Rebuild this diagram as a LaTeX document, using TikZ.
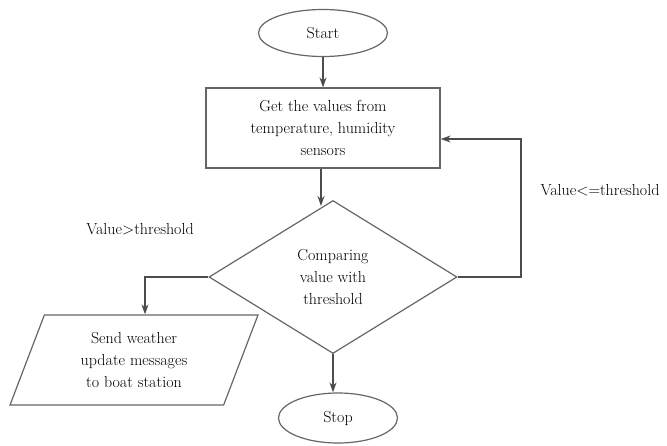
\documentclass[tikz,border=0pt]{standalone}
\usepackage{fontspec}
\usetikzlibrary{
  arrows.meta,
  shapes.geometric,
  chains,
  positioning,
  scopes,
  calc
}

\begin{document}
\begin{tikzpicture}[
      x=1pt,y=-1pt,
      every node/.style={
         font=\rmfamily\fontsize{16}{22}\selectfont,
         text=black
      },
      terminal/.style={
         ellipse,
         draw=black!60,
         inner sep=0pt
      },
      process/.style={
         rectangle,
         draw=black!60,
         minimum width=234pt,
         minimum height=80pt,
         align=center
      },
      decision/.style={
         diamond,
         draw=black!60,
         aspect=1.6,
         inner sep=0pt,
         minimum width=248pt,
         minimum height=153pt,
         align=center
      },
      io/.style={
         trapezium,
         trapezium left angle=61,
         trapezium right angle=119,
         trapezium stretches body,
         draw=black!60,
         minimum width=248pt,
         minimum height=90pt,
         align=center
      },
      point/.style={coordinate},>={Stealth[length=10pt,width=7pt]},line width=1.2pt,
      tip/.style={->,draw=black!70,shorten >=0.007pt},
      hv path/.style={to path={-| (\tikztotarget)}},
      vh path/.style={to path={|- (\tikztotarget)}}
    ]
    \useasboundingbox (0,0) rectangle (667,445);
    \node (start) [terminal, minimum width=129pt, minimum height=47pt] at (323,33) {Start};
    \node (get) [process] at (323,128) {Get the values from\\temperature, humidity\\sensors};
    \node (cmp) [decision] at (333,277) {Comparing\\value with\\threshold};
    \node (send) [io] at (134,360) {Send weather\\update messages\\to boat station};
    \node (stop) [terminal, minimum width=119pt, minimum height=50pt] at (338,418) {Stop};
    \node (le) at (600,190) {Value<=threshold};
    \node (gt) at (140,229) {Value>threshold};
    % turning points
    \node (dtop) [point] at (321,206) {};
    \node (rb) [point] at (521,277) {};
    \node (rt) [point] at (521,139) {};
    \node (lb) [point] at (145,277) {};
  { [start chain]
       \chainin (start);
       \chainin (get)    [join=by tip];
  }
    \draw [tip] (dtop |- get.south) -- (dtop);
    \draw [tip] (cmp.south) -- (cmp.south |- stop.north);
    \draw [tip] (cmp.east) -- (rb) -- (rt) -- (rt -| get.east);
    \draw [tip] (cmp.west) -- (lb) -- (lb |- send.north);
\end{tikzpicture}
\end{document}
